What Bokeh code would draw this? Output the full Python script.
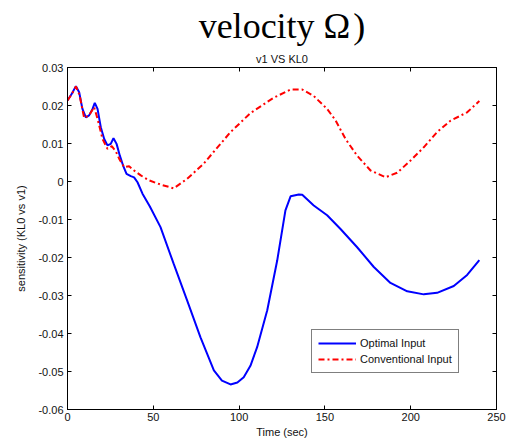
from bokeh.plotting import figure
from bokeh.models import (LinearAxis, FixedTicker, CustomJSTickFormatter, Title,
                          Legend, LegendItem, Range1d)
from bokeh.embed import file_html
from bokeh.resources import INLINE

# Optimal input (blue)
t_opt = [0, 2.5, 4.9, 6.8, 8.7, 10.7, 12.6, 14.6, 15.9, 17.5, 19.4, 21.4, 23.3, 25.2,
         26.8, 28.6, 30.5, 32.4, 34.4, 36.9, 38.8, 40.8, 43.7, 48.0, 54.2, 61.9, 69.7,
         77.5, 85.3, 90.0, 95.0, 99.0, 102.7, 106.6, 110.5, 116.4, 122.2, 127.0, 130.0,
         134.8, 136.8, 143.5, 151.3, 159.1, 168.8, 178.5, 188.2, 198.0, 207.6, 215.4,
         225.1, 232.9, 240.0]
s_opt = [0.0213, 0.0231, 0.0251, 0.0235, 0.0191, 0.0169, 0.0174, 0.0191, 0.0207, 0.0191,
         0.0143, 0.0112, 0.0095, 0.0099, 0.0114, 0.0099, 0.0068, 0.0042, 0.0020, 0.0014,
         0.0011, -0.0002, -0.0032, -0.0066, -0.0120, -0.0217, -0.0313, -0.0410, -0.0497,
         -0.0524, -0.0534, -0.0529, -0.0515, -0.0485, -0.0436, -0.0339, -0.0208, -0.0076,
         -0.0039, -0.0034, -0.0035, -0.0063, -0.0089, -0.0125, -0.0173, -0.0225, -0.0267,
         -0.0289, -0.0297, -0.0293, -0.0275, -0.0246, -0.0207]

# Conventional input (red)
t_conv = [0, 2.5, 4.9, 7.0, 9.7, 12.6, 15.5, 17.5, 20.4, 23.3, 25.8, 28.2, 30.1, 33.0,
          35.9, 38.8, 42.7, 47.6, 54.2, 61.9, 69.7, 79.4, 85.0, 95.0, 106.6, 120.0,
          130.0, 136.8, 143.5, 151.3, 156.2, 162.0, 168.8, 176.6, 185.3, 192.1, 199.9,
          207.6, 215.4, 223.2, 232.9, 240.0]
s_conv = [0.0213, 0.0230, 0.0250, 0.0228, 0.0167, 0.0174, 0.0196, 0.0165, 0.0112,
          0.0086, 0.0093, 0.0079, 0.0060, 0.0038, 0.0040, 0.0029, 0.0016, 0.0003,
          -0.0008, -0.0018, 0.0007, 0.0047, 0.0077, 0.0130, 0.0180, 0.0220, 0.0242,
          0.0242, 0.0225, 0.0191, 0.0161, 0.0112, 0.0068, 0.0029, 0.0011, 0.0023,
          0.0055, 0.0090, 0.0130, 0.0160, 0.0182, 0.0212]

x_ticks = [0, 50, 100, 150, 200, 250]
y_ticks = [-0.06, -0.05, -0.04, -0.03, -0.02, -0.01, 0, 0.01, 0.02, 0.03]

FONT = "Liberation Sans"

p = figure(width=518, height=448, output_backend="svg", toolbar_location=None,
           x_range=Range1d(0, 250), y_range=Range1d(-0.06, 0.03), title=None,
           min_border_left=67, min_border_right=22, min_border_top=67,
           min_border_bottom=39, x_axis_label="Time (sec)",
           y_axis_label="sensitivity (KL0 vs v1)")
p.background_fill_color = "white"
p.border_fill_color = "white"
p.grid.visible = False
p.outline_line_color = "black"
p.outline_line_width = 1

fmt = CustomJSTickFormatter(code="""
if (Math.abs(tick) < 1e-9) return '0';
return tick.toFixed(2);
""")
blank = CustomJSTickFormatter(code="return '';")

for ax in p.xaxis + p.yaxis:
    ax.major_tick_in = 4
    ax.major_tick_out = 0
    ax.minor_tick_in = 0
    ax.minor_tick_out = 0
    ax.axis_line_color = "black"
    ax.major_label_text_font = FONT
    ax.major_label_text_font_size = "11px"
    ax.axis_label_text_font = FONT
    ax.axis_label_text_font_size = "11px"
    ax.axis_label_text_font_style = "normal"
    ax.major_label_text_color = "#111111"
    ax.axis_label_text_color = "#111111"

p.xaxis.ticker = FixedTicker(ticks=x_ticks)
p.yaxis.ticker = FixedTicker(ticks=y_ticks)
p.yaxis.formatter = fmt
p.xaxis.major_label_standoff = 3
p.yaxis.major_label_standoff = 4
p.xaxis.axis_label_standoff = 2
p.yaxis.axis_label_standoff = 8

right = LinearAxis(ticker=FixedTicker(ticks=y_ticks), formatter=blank, major_tick_in=4,
                   major_tick_out=0, minor_tick_in=0, minor_tick_out=0,
                   major_label_standoff=0)
top = LinearAxis(ticker=FixedTicker(ticks=x_ticks), formatter=blank, major_tick_in=4,
                 major_tick_out=0, minor_tick_in=0, minor_tick_out=0,
                 major_label_standoff=0)
p.add_layout(right, "right")
p.add_layout(top, "above")

sub = Title(text="v1 VS KL0", align="center", text_font=FONT, text_font_size="11px",
            text_font_style="normal", text_color="#111111", standoff=5)
big = Title(text="velocity\u00a0\u03a9\u200a)", align="center", offset=-8,
            text_font="Liberation Serif", text_font_size="36px",
            text_font_style="normal", text_color="#000000", standoff=6)
p.add_layout(sub, "above")
p.add_layout(big, "above")

r1 = p.line(t_opt, s_opt, line_color="#0000ff", line_width=2)
r2 = p.line(t_conv, s_conv, line_color="#ff0000", line_width=2, line_dash="6 3 2 3")

legend = Legend(items=[LegendItem(label="Optimal Input", renderers=[r1]),
                       LegendItem(label="Conventional Input", renderers=[r2])],
                location=(244, 36), border_line_color="black", border_line_width=1,
                label_text_font=FONT, label_text_font_size="11px",
                label_text_color="#111111",
                glyph_width=38, glyph_height=14, label_standoff=4, padding=6,
                spacing=2, margin=0, background_fill_alpha=1)
p.add_layout(legend, "center")

open("out.html", "w").write(file_html(p, INLINE))
